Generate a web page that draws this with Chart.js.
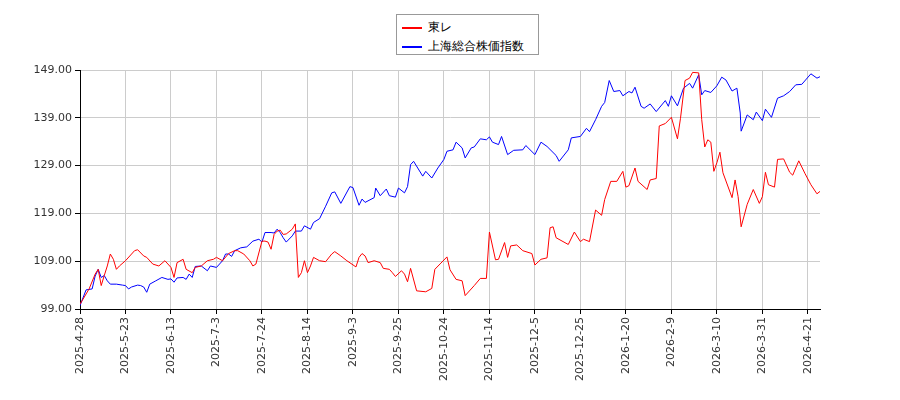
<!DOCTYPE html>
<html><head><meta charset="utf-8">
<script src="https://cdn.jsdelivr.net/npm/chart.js@4"></script>
<style>
body{margin:0;background:#fff;font-family:"DejaVu Sans",sans-serif}
#wrap{position:relative;width:900px;height:400px}
#leg{position:absolute;left:396px;top:14px;width:143px;height:41px;border:1px solid #999;background:#fff;font-size:12px;box-sizing:border-box;padding:3px 0 0 5px;line-height:19px}
#leg span.l{display:inline-block;width:20px;height:2px;vertical-align:middle;margin-right:6px}
</style></head><body>
<div id="wrap"><canvas id="c" width="900" height="400"></canvas>
<div id="leg"><div><span class="l" style="background:#f00"></span>東レ</div><div><span class="l" style="background:#00f"></span>上海総合株価指数</div></div></div>
<script>
const tickLabels=["2025-4-28","2025-5-23","2025-6-13","2025-7-3","2025-7-24","2025-8-14","2025-9-3","2025-9-25","2025-10-24","2025-11-14","2025-12-5","2025-12-25","2026-1-20","2026-2-9","2026-3-10","2026-3-31","2026-4-21"];
const seriesNames=["東レ","上海総合株価指数"];
const redIdx=[0,3,5,6,7,8,9,10,11,12,13,15,17,18,19,21,22,24,26,28,30,31,32,34,35,37,38,40,42,44,45,47,49,51,52,54,56,57,58,60,61,62,63,64,65,66,67,68,70,71,72,73,74,75,76,77,79,81,83,84,86,88,91,92,93,94,95,97,99,100,102,103,104,106,107,108,109,111,114,116,117,119,121,122,124,126,127,130,132,134,135,137,138,140,141,142,144,146,149,150,152,154,155,156,157,161,163,165,166,168,170,172,173,175,177,179,180,181,183,184,187,188,190,191,193,195,197,198,199.5,201,202,204,205,206,207,208,209,210,211,212,215,216,217,218,220,222,224,225,226,227,229,230,232,234,235,237,239,241,243,245];
const redVal=[100.0,103.2,106.3,107.3,103.9,106.0,108.0,110.5,109.4,107.3,108.0,109.1,110.5,111.2,111.4,110.1,109.8,108.4,108.0,109.1,107.7,105.6,108.7,109.4,107.3,106.6,107.7,108.0,109.1,109.4,109.8,109.1,110.6,111.2,111.2,110.5,109.1,108.0,108.4,113.2,113.2,113.0,111.5,114.6,115.3,115.5,114.6,114.7,115.7,116.8,105.6,106.6,109.1,106.6,108.0,109.8,109.1,108.9,110.5,111.0,110.1,109.1,107.8,109.8,110.6,110.1,108.7,109.1,108.7,107.5,107.3,106.6,105.8,107.0,106.3,104.7,107.5,102.8,102.6,103.3,107.3,108.6,109.9,107.2,105.2,104.9,101.8,103.9,105.4,105.4,115.1,109.3,109.4,112.9,109.8,112.2,112.4,111.2,110.6,108.2,109.4,109.7,116.0,116.2,113.9,112.5,115.1,113.1,113.6,113.1,119.7,118.6,121.9,125.7,125.7,127.8,124.5,124.8,128.5,125.7,124.0,126.0,126.3,137.3,137.8,139.1,134.6,138.9,146.8,147.3,148.5,148.4,138.6,132.9,134.4,133.9,127.8,129.6,131.8,127.5,122.3,126.0,122.5,116.2,120.9,124.0,121.1,122.5,127.6,125.0,124.5,130.3,130.4,127.6,127.0,130.0,127.4,125.0,123.1,124.1];
const blueIdx=[0,2,4,5,6,7,8,9,10,12,14,15,16,17,19,20,21,22,23,25,27,29,30,31,32,34,35,36,37,38,40,42,43,45,47,48,49,50,51,53,55,57,59,60,61,63,64,65,66,67,68,70,71,73,74,76,77,79,81,83,84,86,89,90,92,93,94,97,97.5,99,101,102,104,105,107,108,109,110,113,114,116,118,120,121,123,124,126,127,129,130,132,134,135,136,138,139,141,143,146,147,150,152,154,157,158,161,162,165,167,168,170,172,173,174.5,176,178,179,181,182,183,185,186,188,190,193,194,195,197,199,201,202,204,205,206,208,210,211.6,213,215,216.6,217.7,218,220,222,223,225,226,228,230,232,234,236,238,241,243,244];
const blueVal=[99.7,103.0,103.2,105.9,107.3,105.6,106.0,104.9,104.2,104.2,104.0,103.9,103.2,103.6,104.0,103.9,103.6,102.5,104.2,104.9,105.6,105.2,105.3,104.6,105.5,105.6,105.2,106.3,105.6,107.9,108.0,107.0,108.0,107.7,109.1,110.5,110.5,110.0,111.2,111.8,112.0,113.2,113.6,113.0,115.0,115.0,114.9,115.7,115.0,113.9,113.0,114.3,115.3,115.3,116.4,115.7,117.1,117.9,120.5,123.3,123.5,121.1,124.6,124.4,120.7,122.0,121.3,122.3,124.3,122.7,124.1,122.7,122.4,124.3,123.3,124.6,129.2,129.9,126.8,127.8,126.4,128.5,130.3,132.0,132.3,133.9,132.7,130.6,132.7,132.9,134.6,134.4,135.0,133.9,133.4,135.1,131.3,132.2,132.3,133.2,131.3,133.9,133.0,131.1,129.9,132.3,134.8,135.1,136.8,136.1,138.6,141.4,142.2,146.8,144.5,144.7,143.6,144.5,144.2,145.4,141.4,141.0,141.9,140.3,142.6,141.4,143.6,141.5,145.2,146.2,145.2,148.0,143.8,144.7,144.3,145.7,147.5,146.9,144.6,145.2,140.0,136.2,139.6,138.6,140.2,138.4,140.8,139.1,143.1,143.6,144.5,145.9,146.0,148.2,147.3,147.6];
const mk=(ix,v)=>ix.map((x,i)=>({x:x,y:v[i]}));
new Chart(document.getElementById('c'),{
 type:'line',
 data:{datasets:[
  {label:seriesNames[0],data:mk(redIdx,redVal),borderColor:'#f00',borderWidth:1,pointRadius:0,tension:0},
  {label:seriesNames[1],data:mk(blueIdx,blueVal),borderColor:'#00f',borderWidth:1,pointRadius:0,tension:0}]},
 options:{animation:false,responsive:false,
  layout:{padding:{left:5,right:80,top:70,bottom:0}},
  plugins:{legend:{display:false},tooltip:{enabled:false}},
  scales:{
   x:{type:'linear',min:0,max:244,
     afterFit:s=>{s.height=91},
     afterBuildTicks:s=>{s.ticks=tickLabels.map((t,i)=>({value:i*15}))},
     ticks:{autoSkip:false,maxRotation:90,minRotation:90,font:{size:11,family:'DejaVu Sans'},color:'#333',callback:(v)=>tickLabels[Math.round(v/15)]},
     grid:{color:'#ccc',tickLength:5,tickColor:'#000'},border:{color:'#000'}},
   y:{min:99,max:149,
     afterFit:s=>{s.width=75},
     afterBuildTicks:s=>{s.ticks=[99,109,119,129,139,149].map(v=>({value:v}))},
     ticks:{font:{size:11,family:'DejaVu Sans'},color:'#333',callback:v=>v.toFixed(2)},
     grid:{color:'#ccc',tickLength:5,tickColor:'#000'},border:{color:'#000'}}
  }}
});
</script></body></html>
